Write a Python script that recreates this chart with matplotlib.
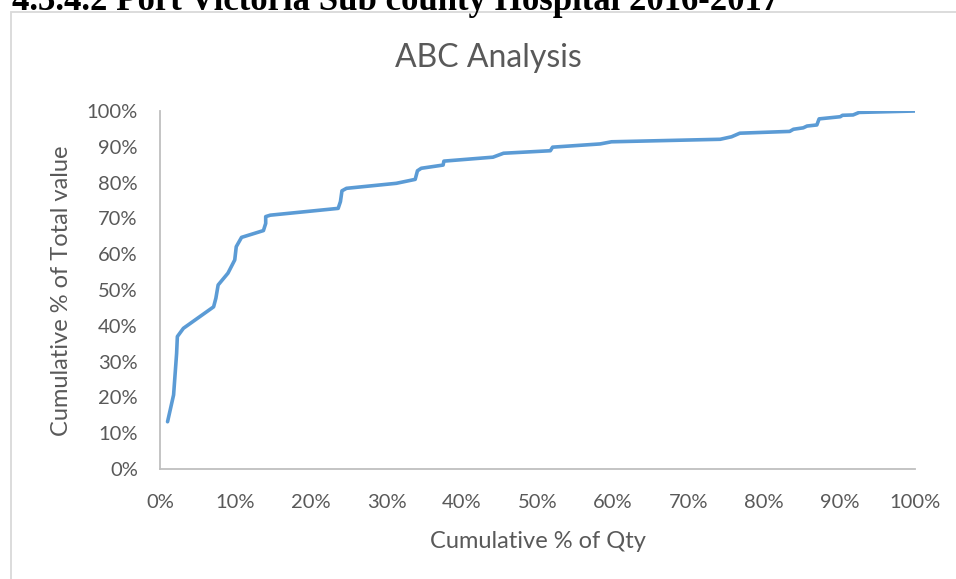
import matplotlib
matplotlib.use("Agg")
import matplotlib.pyplot as plt
from matplotlib.patches import Rectangle
from matplotlib.ticker import FuncFormatter

# cumulative share of quantity (x) vs cumulative share of value (y), in %
cum_qty_pct = [1.0, 1.8, 2.2, 2.3, 3.1, 7.1, 7.4, 7.7, 9.0, 9.9, 10.1, 10.8,
               13.7, 14.0, 14.0, 14.6, 23.6, 23.9, 24.1, 24.7, 31.3, 33.8,
               34.1, 34.6, 37.5, 37.6, 44.1, 45.5, 51.7, 52.0, 58.3, 59.8,
               74.2, 75.7, 76.8, 83.4, 83.9, 85.2, 85.7, 87.0, 87.3, 90.1,
               90.4, 91.8, 92.6, 100.0]
cum_value_pct = [13.2, 20.7, 32.3, 37.0, 39.3, 45.3, 47.7, 51.4, 54.7, 58.4,
                 62.1, 64.7, 66.6, 68.6, 70.5, 70.9, 72.8, 74.7, 77.7, 78.4,
                 79.8, 80.9, 83.3, 84.0, 84.9, 86.0, 87.1, 88.2, 88.9, 89.9,
                 90.8, 91.4, 92.1, 92.8, 93.8, 94.3, 94.9, 95.3, 95.8, 96.1,
                 97.8, 98.4, 98.8, 98.9, 99.6, 100.0]
tick_values = list(range(0, 101, 10))

heading = "4.3.4.2 Port Victoria Sub county Hospital 2016-2017"
title = "ABC Analysis"
xlabel = "Cumulative % of Qty"
ylabel = "Cumulative % of Total value"

txt_color = "#595959"
plt.rcParams["font.family"] = ["Lato", "DejaVu Sans"]

W, H = 956, 579
fig = plt.figure(figsize=(W / 100, H / 100), dpi=100)
fig.patch.set_facecolor("white")

# section heading of the page, only its lower part falls inside the image
fig.text(12 / W, 1 - 10 / H, heading, ha="left", va="baseline",
         fontsize=25, fontweight="bold", family="Liberation Serif",
         color="black")

# chart area border
fig.patches.append(Rectangle((11 / W, -0.05), 1.1, 1 - 12 / H + 0.05,
                             transform=fig.transFigure, fill=False,
                             edgecolor="#d9d9d9", linewidth=1.3))

ax = fig.add_axes([160 / W, 1 - 469 / H, 755 / W, 358 / H])
ax.plot(cum_qty_pct, cum_value_pct, color="#5b9bd5", linewidth=2.6,
        solid_joinstyle="round", solid_capstyle="round")

ax.set_xlim(0, 100)
ax.set_ylim(0, 100)
ax.set_xticks(tick_values)
ax.set_yticks(tick_values)
pct = FuncFormatter(lambda v, _: f"{v:.0f}%")
ax.xaxis.set_major_formatter(pct)
ax.yaxis.set_major_formatter(pct)
ax.tick_params(length=0, labelsize=14.5, colors=txt_color)
ax.tick_params(axis="x", pad=18)
ax.tick_params(axis="y", pad=16)

for side in ("top", "right"):
    ax.spines[side].set_visible(False)
for side in ("left", "bottom"):
    ax.spines[side].set_color("#bfbfbf")
    ax.spines[side].set_linewidth(1.3)

fig.text(488 / W, 1 - 58 / H, title, ha="center", va="center",
         fontsize=23, color=txt_color)
fig.text(538 / W, 1 - 541 / H, xlabel, ha="center", va="center",
         fontsize=17, color=txt_color)
fig.text(62 / W, 1 - 291 / H, ylabel, ha="center", va="center",
         rotation=90, fontsize=17, color=txt_color)

fig.savefig("out.png", dpi=100)
